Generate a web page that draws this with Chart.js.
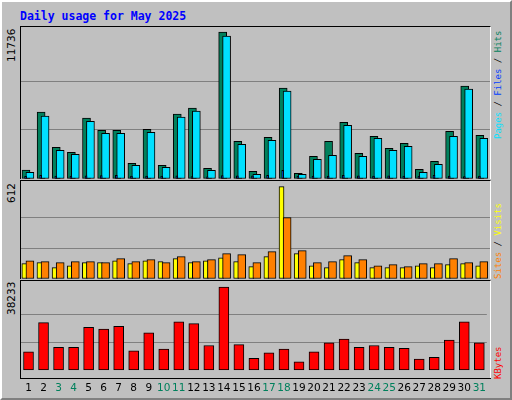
<!DOCTYPE html>
<html><head><meta charset="utf-8">
<script src="https://cdn.jsdelivr.net/npm/chart.js@4/dist/chart.umd.min.js"></script>
<style>
body{margin:0;background:#fff}
#wrap{position:absolute;left:0;top:0;width:508px;height:396px;background:#C0C0C0;border-left:2px solid #fff;border-top:2px solid #fff;border-right:2px solid #808080;border-bottom:2px solid #808080;}
.panel{position:absolute;background:#C0C0C0;border-left:1px solid #000;border-top:1px solid #000;border-right:1px solid #fff;}
canvas{position:absolute;left:0;top:0}
.up{position:absolute;transform-origin:0 0;transform:rotate(-90deg);white-space:nowrap;}
.lbl{font:10.5px "DejaVu Sans";color:#000}
.leg{font:9px "DejaVu Sans Mono";}
#title{position:absolute;left:18px;top:7px;font:bold 11.5px "DejaVu Sans Mono";color:#0000FF}
</style></head><body>
<div id="wrap">
<div id="title">Daily usage for May 2025</div>
</div>
<script>
const days=[1,2,3,4,5,6,7,8,9,10,11,12,13,14,15,16,17,18,19,20,21,22,23,24,25,26,27,28,29,30,31];
const weekend=[3,4,10,11,17,18,24,25,31];
const hits=[720,5334,2534,2134,4854,3894,3894,1254,3974,1094,5174,5654,853,11736,3014,613,3334,7254,453,1814,3014,4534,2054,3414,2454,2854,773,1414,3814,7414,3494];
const pages=[533,5014,2294,1974,4614,3654,3654,1094,3734,933,4934,5414,693,11415,2774,373,3094,7014,373,1574,1894,4294,1814,3254,2294,2614,533,1174,3414,7174,3254];
const files=[210,300,230,230,260,280,290,240,230,230,260,200,180,280,250,250,300,700,230,230,230,300,250,230,250,230,230,300,240,200,230];
const visits=[102,108,75,88,108,108,121,102,121,115,135,108,121,141,115,82,148,612,168,88,75,128,108,75,75,75,88,75,95,102,88];
const sites=[121,115,108,115,115,108,135,115,128,108,148,115,128,168,161,108,181,406,188,108,115,155,128,88,95,82,102,102,135,108,115];
const kbytes=[8512,21906,10605,10605,19815,18977,20233,8930,17303,9768,22326,21489,11442,38233,11861,5581,8093,9768,3907,8512,12698,14373,10605,11442,10605,10186,5163,6000,13954,22326,12698];
const maxHits=11736,maxVisits=612,maxK=38233;

const wrap=document.getElementById('wrap');
function addEl(cls,html,css){const d=document.createElement('div');d.className=cls;d.innerHTML=html;Object.assign(d.style,css);wrap.appendChild(d);return d;}

function makePanel(top,h,extra,series,max,headroom,showX){
  const p=addEl('panel','',{left:'18px',top:top+'px',width:'469px',height:h+'px'});
  const c=document.createElement('canvas');
  c.width=469;c.height=h+extra;c.style.width='469px';c.style.height=(h+extra)+'px';
  p.appendChild(c);
  new Chart(c,{type:'bar',
    data:{datasets:series.map(s=>({data:s.vals.map((v,i)=>({x:days[i]+s.off,y:v})),backgroundColor:s.color,borderColor:'#000',borderWidth:1,borderSkipped:false,barThickness:s.w,grouped:false}))},
    options:{responsive:false,animation:false,devicePixelRatio:1,
      layout:{padding:0},
      plugins:{legend:{display:false},tooltip:{enabled:false}},
      scales:{
        x:{type:'linear',min:0.5,max:31.5,display:showX,offset:false,
          grid:{display:false},border:{display:false},
          afterBuildTicks:sc=>{sc.ticks=days.map(v=>({value:v}));},
          ticks:{autoSkip:false,maxRotation:0,padding:4,font:{family:'DejaVu Sans',size:10.5},
            color:ctx=>weekend.includes(ctx.tick.value)?'#00805C':'#000',callback:v=>v}},
        y:{min:0,max:max*headroom,afterBuildTicks:sc=>{sc.ticks=[0,max/3,2*max/3].map(v=>({value:v}));},
          ticks:{display:false},border:{display:false},
          grid:{drawTicks:false,tickLength:0,lineWidth:1,color:ctx=>(ctx.index===1||ctx.index===2)?'#808080':'rgba(0,0,0,0)'}}
      }}});
}
makePanel(24,152,0,[
  {vals:files,color:'#0040FF',off:-0.2,w:2},
  {vals:pages,color:'#00E0FF',off:0.09,w:8},
  {vals:hits,color:'#00805C',off:-0.17,w:8}],maxHits,152/147,false);
makePanel(178,98,0,[
  {vals:sites,color:'#FF8000',off:0.09,w:8},
  {vals:visits,color:'#FFFF00',off:-0.28,w:5}],maxVisits,98/92.4,false);
makePanel(278,98,20,[
  {vals:kbytes,color:'#FF0000',off:0,w:10}],maxK,98/91.3,true);
addEl('', '', {position:'absolute',left:'18px',top:'376px',width:'471px',height:'1px',background:'#000'});

addEl('up lbl','11736',{left:'3px',top:'60px'});
addEl('up lbl','612',{left:'3px',top:'201px'});
addEl('up lbl','38233',{left:'3px',top:'313px'});
addEl('up leg','<span style="color:#00E0FF">Pages</span><span style="color:#000"> / </span><span style="color:#0040FF">Files</span><span style="color:#000"> / </span><span style="color:#00805C">Hits</span>',{left:'491px',top:'137px'});
addEl('up leg','<span style="color:#FF8000">Sites</span><span style="color:#000"> / </span><span style="color:#FFFF00">Visits</span>',{left:'491px',top:'277px'});
addEl('up leg','<span style="color:#FF0000">KBytes</span>',{left:'491px',top:'377px'});
</script>
</body></html>
